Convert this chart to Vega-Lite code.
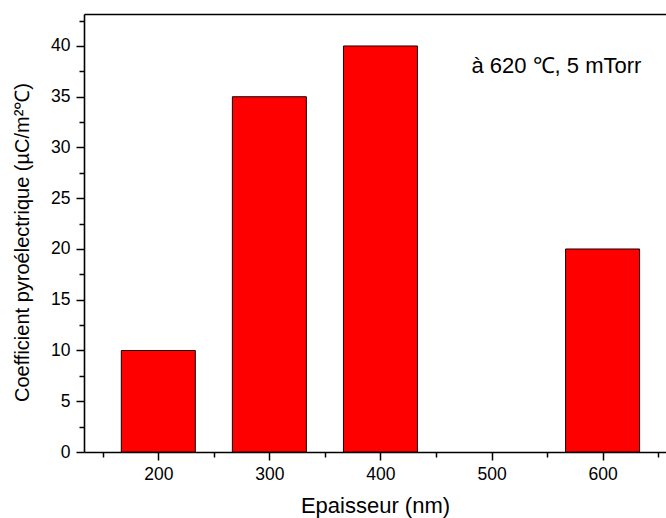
{
  "$schema": "https://vega.github.io/schema/vega-lite/v6.json",
  "width": 582,
  "height": 438,
  "autosize": {"type": "none"},
  "padding": {"left": 84, "top": 14, "right": 0, "bottom": 66},
  "background": "white",
  "config": {
    "view": {"stroke": null},
    "font": "Liberation Sans",
    "axis": {
      "labelFont": "Liberation Sans",
      "titleFont": "Liberation Sans",
      "labelFontSize": 17.5,
      "titleFontSize": 22,
      "titleFontWeight": "normal",
      "labelColor": "black",
      "titleColor": "black",
      "domainColor": "black",
      "tickColor": "black",
      "domainWidth": 1.6,
      "tickWidth": 1.5,
      "grid": false
    }
  },
  "data": {
    "values": [
      {"epaisseur": 200, "coef": 10},
      {"epaisseur": 300, "coef": 35},
      {"epaisseur": 400, "coef": 40},
      {"epaisseur": 600, "coef": 20}
    ]
  },
  "layer": [
    {
      "mark": {"type": "bar", "color": "#FF0000", "stroke": "#1a0000", "strokeWidth": 1, "size": 74},
      "encoding": {
        "x": {
          "field": "epaisseur",
          "type": "quantitative",
          "scale": {"domain": [137.6, 652.6], "nice": false, "zero": false},
          "axis": {
            "orient": "bottom",
            "title": "Epaisseur (nm)",
            "values": [200, 300, 400, 500, 600],
            "format": "d",
            "tickSize": 8,
            "labelPadding": 5,
            "titlePadding": 13,
            "labelFlush": false
          }
        },
        "y": {
          "field": "coef",
          "type": "quantitative",
          "scale": {"domain": [0, 43.15], "nice": false},
          "axis": {
            "orient": "left",
            "title": "Coefficient pyroélectrique (µC/m²℃)",
            "titleFontSize": 20,
            "titleY": 228,
            "values": [0, 5, 10, 15, 20, 25, 30, 35, 40],
            "format": "d",
            "tickSize": 8,
            "labelPadding": 6,
            "titlePadding": 18,
            "labelFlush": false
          }
        }
      }
    },
    {
      "data": {"values": [{"label": "à 620 ℃, 5 mTorr"}]},
      "mark": {"type": "text", "align": "left", "baseline": "alphabetic", "fontSize": 22, "fontWeight": "normal", "font": "Liberation Sans", "color": "black"},
      "encoding": {
        "text": {"field": "label", "type": "nominal"},
        "x": {
          "datum": 481.9,
          "type": "quantitative",
          "axis": {"orient": "top", "title": null, "labels": false, "ticks": false, "domain": true, "grid": false}
        },
        "y": {
          "datum": 37.3,
          "type": "quantitative",
          "axis": {
            "orient": "left",
            "title": null,
            "labels": false,
            "domain": false,
            "grid": false,
            "values": [2.5, 7.5, 12.5, 17.5, 22.5, 27.5, 32.5, 37.5, 42.5],
            "tickSize": 5
          }
        }
      }
    },
    {
      "mark": {"type": "point", "opacity": 0},
      "encoding": {
        "x": {
          "field": "epaisseur",
          "type": "quantitative",
          "axis": {
            "orient": "bottom",
            "title": null,
            "labels": false,
            "domain": false,
            "grid": false,
            "values": [150, 250, 350, 450, 550, 650],
            "tickSize": 5
          }
        },
        "y": {"field": "coef", "type": "quantitative", "axis": null}
      }
    }
  ],
  "resolve": {"axis": {"x": "independent", "y": "independent"}}
}
